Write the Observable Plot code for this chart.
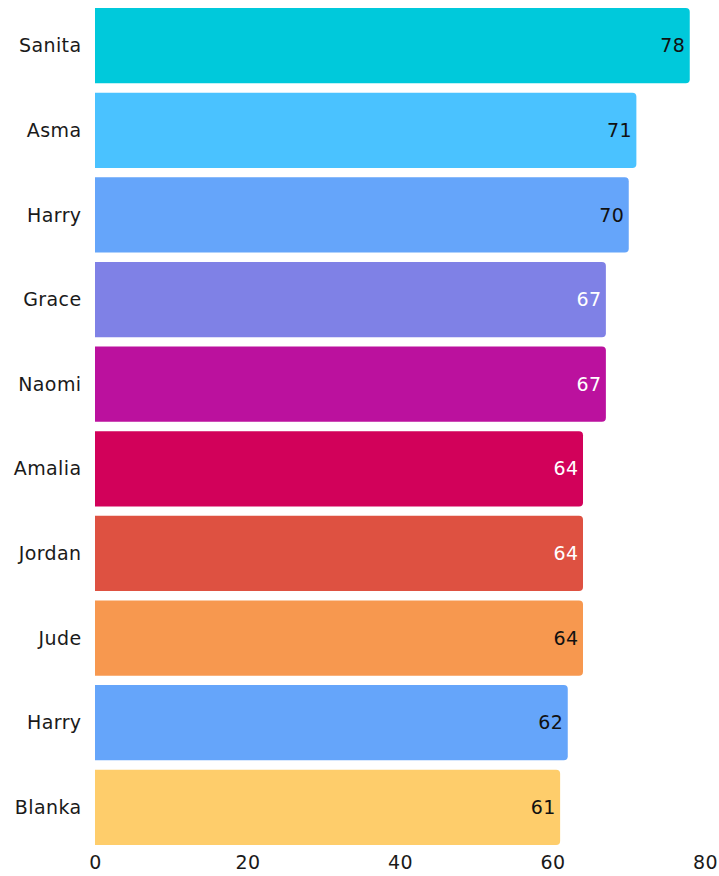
<!DOCTYPE html>
<html>
<head>
<meta charset="utf-8">
<script src="https://cdn.jsdelivr.net/npm/d3@7"></script>
<script src="https://cdn.jsdelivr.net/npm/@observablehq/plot@0.6"></script>
<style>
  html, body { margin: 0; padding: 0; background: #fff; }
  #chart svg { display: block; }
  #chart svg text { letter-spacing: 0.4px; }
</style>
</head>
<body>
<div id="chart"></div>
<script>
const names = ["Sanita", "Asma", "Harry", "Grace", "Naomi", "Amalia", "Jordan", "Jude", "Harry", "Blanka"];
const values = [78, 71, 70, 67, 67, 64, 64, 64, 62, 61];
const colors = ["#00c9db", "#4ac2ff", "#65a5fa", "#7f81e6", "#bb119e", "#d2015a", "#de5141", "#f7984f", "#65a5fa", "#fecd6b"];
const labelColors = ["#111", "#111", "#111", "#fff", "#fff", "#fff", "#fff", "#111", "#111", "#111"];
const xTicks = [0, 20, 40, 60, 80];

const data = names.map((name, i) => ({
  idx: i, name, value: values[i], color: colors[i], labelColor: labelColors[i]
}));

const font = "'DejaVu Sans', sans-serif";

const chart = Plot.plot({
  width: 719,
  height: 876,
  marginLeft: 95,
  marginRight: 14,
  marginTop: 8,
  marginBottom: 31,
  style: { fontFamily: font, fontSize: "19px", color: "#1a1a1a", background: "#fff" },
  x: { domain: [0, 80], ticks: xTicks, tickSize: 0, tickPadding: 10, label: null, line: false },
  y: {
    domain: d3.range(names.length),
    paddingInner: 0.11,
    paddingOuter: 0,
    round: false,
    tickSize: 0,
    tickPadding: 14,
    tickFormat: i => names[i],
    label: null
  },
  marks: [
    Plot.barX(data, {
      x1: () => -2,
      x2: "value",
      y: "idx",
      fill: "color",
      rx: 4,
      clip: true
    }),
    Plot.text(data, {
      x: "value",
      y: "idx",
      text: d => String(d.value),
      fill: "labelColor",
      textAnchor: "end",
      dx: -5,
      fontSize: 19
    })
  ]
});

document.getElementById("chart").appendChild(chart);
</script>
</body>
</html>
